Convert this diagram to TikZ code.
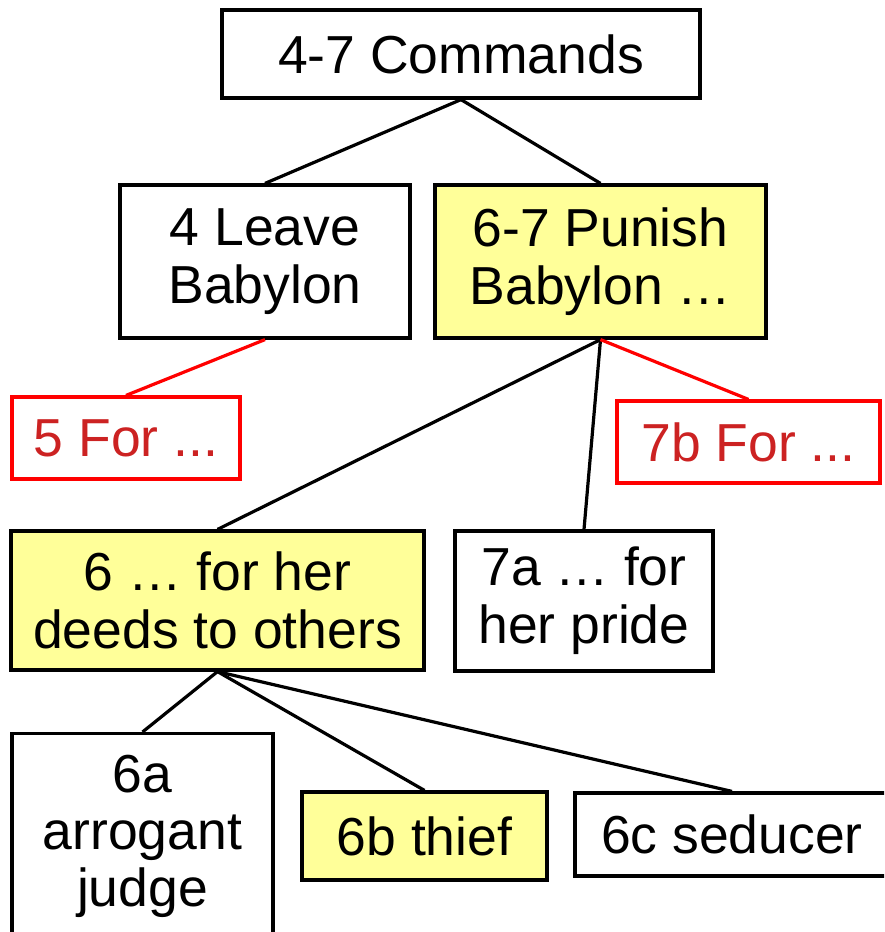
\documentclass[tikz,border=0pt]{standalone}
\usepackage{fontspec}
\setmainfont{Liberation Sans}
\definecolor{boxyellow}{RGB}{255,255,153}
\definecolor{redtext}{RGB}{204,34,34}
\definecolor{redline}{RGB}{255,0,0}
\begin{document}
\begin{tikzpicture}[x=1pt,y=-1pt,
  box/.style={draw=black, line width=3.2pt, fill=white, inner sep=0pt, align=center,
    font=\fontsize{53.5}{58}\selectfont},
  yel/.style={box, fill=boxyellow},
  redbox/.style={box, draw=redline, text=redtext},
  link/.style={line width=3.2pt, black},
  redlink/.style={line width=3.2pt, redline}]
\useasboundingbox (0,0) rectangle (884,932);
\clip (0,0) rectangle (884,932);
% nodes
\node[box, minimum width=478, minimum height=88] (top) at (461,54) {4-7 Commands};
\node[box, minimum width=290, minimum height=153] (leave) at (265,261.5) {4 Leave\\Babylon};
\node[yel, minimum width=331, minimum height=153] (punish) at (600.5,261.5) {6-7 Punish\\Babylon …};
\node[redbox, minimum width=228, minimum height=82] (for5) at (126,438) {5 For ...};
\node[redbox, minimum width=263, minimum height=82] (for7b) at (748.5,442) {7b For ...};
\node[yel, minimum width=413, minimum height=139] (deeds) at (217.5,600.5) {6 … for her\\deeds to others};
\node[box, minimum width=258, minimum height=140] (pride) at (584,601) {7a … for\\her pride};
\node[box, minimum width=261, minimum height=260, anchor=north] (judge) at (142.5,732) {};
\node[align=center, inner sep=0pt, anchor=base, font=\fontsize{53.5}{57}\selectfont] (judgetxt) at (142.5,906) {6a\\arrogant\\judge};
\node[yel, minimum width=245, minimum height=88] (thief) at (424.5,836) {6b thief};
\node[box, minimum width=314, minimum height=83] (seducer) at (732,834.5) {6c seducer};
% connectors
\draw[link] (top.south) -- (leave.north);
\draw[link] (top.south) -- (punish.north);
\draw[redlink] (leave.south) -- (for5.north);
\draw[link] (punish.south) -- (deeds.north);
\draw[link] (punish.south) -- (pride.north);
\draw[redlink] (punish.south) -- (for7b.north);
\draw[link] (deeds.south) -- (judge.north);
\draw[link] (deeds.south) -- (thief.north);
\draw[link] (deeds.south) -- (seducer.north);
\end{tikzpicture}
\end{document}
